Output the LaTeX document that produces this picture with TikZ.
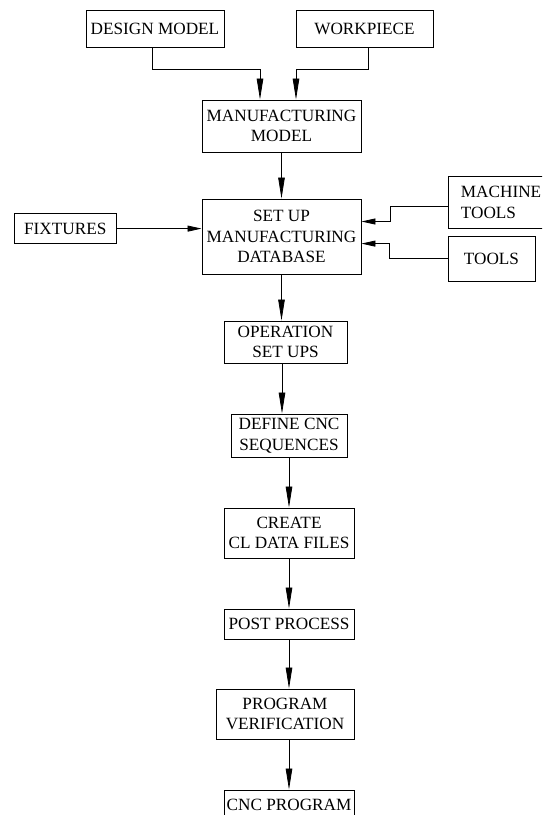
\documentclass[tikz,border=0pt]{standalone}
\usepackage{fontspec}
\setmainfont{Liberation Serif}
\usetikzlibrary{arrows.meta}
\begin{document}
\begin{tikzpicture}[x=1pt,y=1pt,
  box/.style={draw,line width=0.9pt,inner sep=0pt,align=center,
    font=\fontsize{17.2}{20.7}\selectfont},
  varr/.style={line width=0.8pt,-{Triangle[length=21pt,width=6.5pt]}},
  harr/.style={line width=0.8pt,-{Triangle[length=14pt,width=6pt]}}]
\useasboundingbox (0,0) rectangle (542,-815);
\clip (0,0) rectangle (542,-815);
\node[box,minimum width=138,minimum height=37] (dm) at (155,-28.5) {DESIGN MODEL};
\node[box,minimum width=137,minimum height=37] (wp) at (364.5,-28.5) {WORKPIECE};
\node[box,minimum width=159,minimum height=52] (mm) at (281.5,-126) {MANUFACTURING\\MODEL};
\node[box,minimum width=159,minimum height=75] (su) at (281.5,-236.5) {SET UP\\MANUFACTURING\\DATABASE};
\node[box,minimum width=101.5,minimum height=30] (fx) at (65.25,-228.6) {FIXTURES};
\node[box,anchor=west,align=left,text width=100pt,inner xsep=12.5pt,minimum height=52] (mt) at (448,-202.5) {MACHINE\\TOOLS};
\node[box,minimum width=87,minimum height=45] (tl) at (491.5,-258.5) {TOOLS};
\node[box,minimum width=123,minimum height=42] (op) at (285.5,-342) {OPERATION\\SET UPS};
\node[box,minimum width=116,minimum height=43] (dc) at (289,-435.5) {DEFINE CNC\\SEQUENCES};
\node[box,minimum width=130,minimum height=50] (cr) at (289,-533) {CREATE\\CL DATA FILES};
\node[box,minimum width=130,minimum height=30] (pp) at (289,-624) {POST PROCESS};
\node[box,minimum width=138,minimum height=50] (pv) at (285,-714) {PROGRAM\\VERIFICATION};
\node[box,minimum width=130,minimum height=30] (cnc) at (289,-805) {CNC PROGRAM};

\draw[varr] ([xshift=-3pt]dm.south) -- ++(0,-22) -| ([xshift=-21.5pt]mm.north);
\draw[varr] ([xshift=3.5pt]wp.south) -- ++(0,-22) -| ([xshift=14.5pt]mm.north);
\draw[varr] (mm.south) -- (su.north);
\draw[harr] (fx.east) -- (fx.east -| su.west);
\draw[harr] ([yshift=-4.2pt]mt.west) -- ++(-58pt,0) |- ([yshift=15pt]su.east);
\draw[harr] (tl.west) -- ++(-58pt,0) |- ([yshift=-7.1pt]su.east);
\draw[varr] (su.south) -- (su.south |- op.north);
\draw[varr] ([xshift=-3.5pt]op.south) -- ([xshift=-3.5pt]op.south |- dc.north);
\draw[varr] (dc.south) -- (cr.north);
\draw[varr] (cr.south) -- (pp.north);
\draw[varr] (pp.south) -- (pp.south |- pv.north);
\draw[varr] (pp.south |- pv.south) -- (cnc.north);
\end{tikzpicture}
\end{document}
